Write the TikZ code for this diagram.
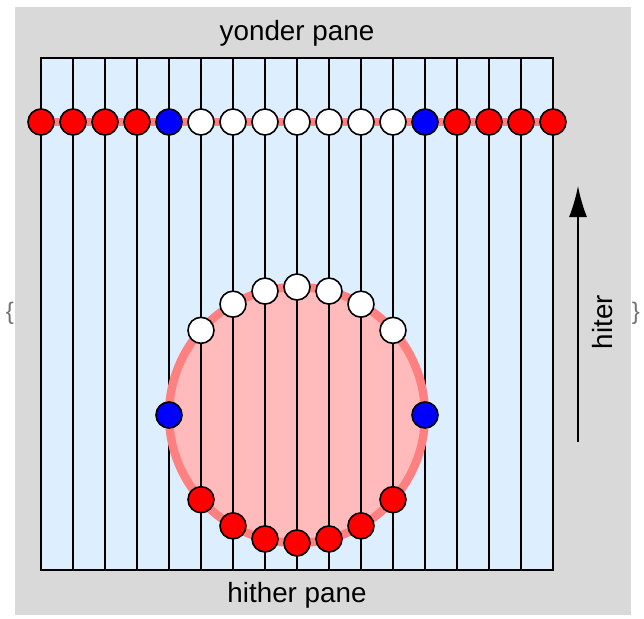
\documentclass[tikz,border=0pt]{standalone}
\usepackage{fontspec}
\setmainfont{Liberation Sans}
\usetikzlibrary{arrows.meta}
\definecolor{bgray}{RGB}{217,217,217}
\definecolor{paneblue}{RGB}{221,238,255}
\definecolor{discfill}{RGB}{255,187,187}
\definecolor{discedge}{RGB}{255,128,128}
\definecolor{dotred}{RGB}{255,0,0}
\definecolor{dotblue}{RGB}{0,0,255}
\tikzset{
 dot/.style={circle,draw=black,line width=0.8pt,minimum size=13pt,inner sep=0pt},
 reddot/.style={dot,fill=dotred},
 bluedot/.style={dot,fill=dotblue},
 whitedot/.style={dot,fill=white},
 paneText/.style={font=\fontsize{13.9}{16}\selectfont, text=black, inner sep=0pt},
 braceText/.style={font=\fontsize{12}{14}\selectfont, text=black!55, inner sep=0pt},
 gridline/.style={line width=0.75pt, draw=black}
}
\begin{document}
\begin{tikzpicture}[x=0.5pt,y=-0.5pt]
\useasboundingbox (0,0) rectangle (644,618);
\fill[bgray] (15,7) rectangle (631,615);
\filldraw[fill=paneblue, gridline] (41,58) rectangle (553,570);
\coordinate (c) at (297,415);
\fill[discfill] (c) circle[radius=128];
\foreach \i in {1,...,15} \draw[gridline] (41+32*\i,58) -- (41+32*\i,570);
\draw[discedge, line width=4.2pt] (c) circle[radius=128];
\coordinate (tl) at (41,122);
\coordinate (tr) at (553,122);
\draw[discedge, line width=4.3pt] (tl) -- (tr);
\foreach \i in {0,1,2,3,13,14,15,16} \node[reddot] (t\i) at (41+32*\i,122) {};
\foreach \i in {4,12} \node[bluedot] (t\i) at (41+32*\i,122) {};
\foreach \i in {5,...,11} \node[whitedot] (t\i) at (41+32*\i,122) {};
\foreach \i in {5,...,11} {
  \pgfmathsetmacro\dy{128*sqrt(1-((\i-8)/4)^2)}
  \node[whitedot] (u\i) at (41+32*\i, 415-\dy) {};
  \node[reddot] (b\i) at (41+32*\i, 415+\dy) {};
}
\node[bluedot] (d4) at (169,415) {};
\node[bluedot] (d12) at (425,415) {};
\node[paneText] (yonder) at (297,33) {yonder pane};
\node[paneText] (hither) at (297,595) {hither pane};
\node[paneText, rotate=90] (hiter) at (603,322) {hiter};
\coordinate (as) at (578,442);
\coordinate (ae) at (578,186);
\draw[line width=0.8pt, -{Latex[length=15.5pt,width=9pt]}] (as) -- (ae);
\node[braceText] (lb) at (10,313) {\{};
\node[braceText] (rb) at (636,313) {\}};
\end{tikzpicture}
\end{document}
